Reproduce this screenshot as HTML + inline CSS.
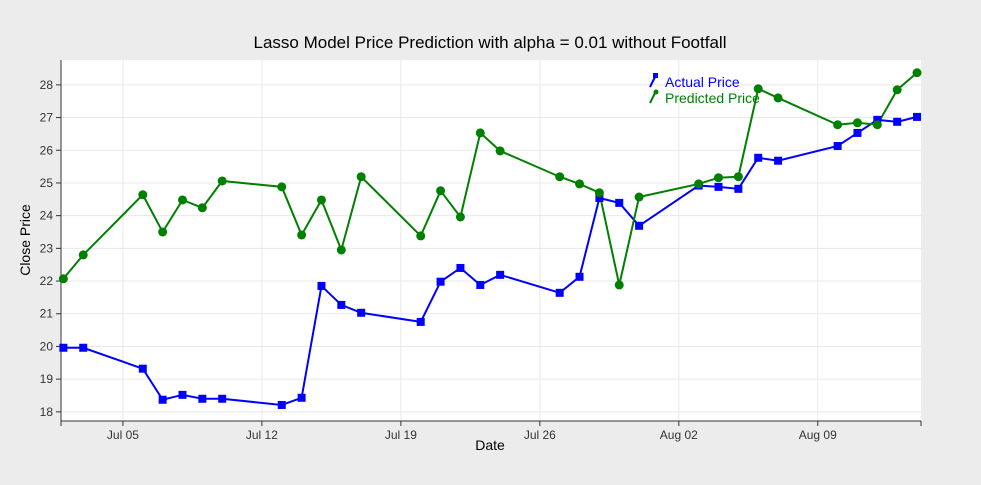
<!DOCTYPE html>
<html><head><meta charset="utf-8"><style>
body{margin:0;background:#ececec;font-family:"Liberation Sans",sans-serif}
svg text{font-family:"Liberation Sans",sans-serif}
</style></head><body>
<svg id="chart" width="981" height="480">
<rect x="0" y="0" width="981" height="480" fill="#ececec"/>
<rect x="61" y="60" width="860" height="361" fill="#fff"/>
<g id="grid"></g><g id="axes"></g><g id="series"></g>
<text x="490" y="48" font-size="17" text-anchor="middle">Lasso Model Price Prediction with alpha = 0.01 without Footfall</text>
<text x="490" y="450" font-size="14" text-anchor="middle">Date</text>
<text x="30" y="240" font-size="14" text-anchor="middle" transform="rotate(-90 30 240)">Close Price</text>
<g>
<g><path d="M650 87 L655 77" stroke="blue" stroke-width="2"/><rect x="653" y="73" width="5" height="5" fill="blue"/><text x="665" y="87" font-size="14" fill="blue">Actual Price</text></g>
<g><path d="M650 103 L655 93" stroke="green" stroke-width="2"/><circle cx="656" cy="92" r="2.5" fill="green"/><text x="665" y="103" font-size="14" fill="green">Predicted Price</text></g>
</g>
</svg>
<script>
const dates=["2020-07-02","2020-07-03","2020-07-06","2020-07-07","2020-07-08","2020-07-09","2020-07-10","2020-07-13","2020-07-14","2020-07-15","2020-07-16","2020-07-17","2020-07-20","2020-07-21","2020-07-22","2020-07-23","2020-07-24","2020-07-27","2020-07-28","2020-07-29","2020-07-30","2020-07-31","2020-08-03","2020-08-04","2020-08-05","2020-08-06","2020-08-07","2020-08-10","2020-08-11","2020-08-12","2020-08-13","2020-08-14"];
const actual=[19.96,19.96,19.32,18.37,18.52,18.4,18.4,18.21,18.43,21.85,21.27,21.03,20.75,21.98,22.4,21.88,22.19,21.64,22.13,24.54,24.39,23.69,24.92,24.88,24.82,25.77,25.68,26.13,26.53,26.93,26.87,27.02];
const predicted=[22.07,22.8,24.64,23.5,24.48,24.24,25.06,24.88,23.41,24.48,22.95,25.19,23.38,24.76,23.96,26.53,25.98,25.19,24.97,24.7,21.88,24.57,24.97,25.16,25.19,27.88,27.6,26.78,26.84,26.78,27.85,28.37];
const yTicks=[18,19,20,21,22,23,24,25,26,27,28];
const xTickDates=["2020-07-05","2020-07-12","2020-07-19","2020-07-26","2020-08-02","2020-08-09"];
const xTickLabels=["Jul 05","Jul 12","Jul 19","Jul 26","Aug 02","Aug 09"];
const NS="http://www.w3.org/2000/svg";
const t=d=>new Date(d+"T00:00:00Z").getTime()/86400000;
const x0=t("2020-07-01")+0.88, x1=t("2020-08-14")+0.2;
const X=d=>61+(t(d)-x0)/(x1-x0)*860;
const Y=v=>421-(v-17.72)/(28.76-17.72)*361;
function mk(tag,a,p){const e=document.createElementNS(NS,tag);for(const k in a)e.setAttribute(k,a[k]);p.appendChild(e);return e;}
const grid=document.getElementById('grid'),axes=document.getElementById('axes'),ser=document.getElementById('series');
yTicks.forEach(v=>{
 const l=mk('line',{x1:61,x2:921,y1:Y(v),y2:Y(v),stroke:'#e8e8e8'},grid);
 
 
 mk('line',{x1:56,x2:61,y1:Y(v),y2:Y(v),stroke:'#333'},axes);
 const tx=mk('text',{x:53,y:Y(v)+4,'font-size':12,'text-anchor':'end',fill:'#333'},axes);tx.textContent=v;
 
 
});
xTickDates.forEach((d,i)=>{
 const l=mk('line',{x1:X(d),x2:X(d),y1:60,y2:421,stroke:'#e8e8e8'},grid);
 
 
 mk('line',{x1:X(d),x2:X(d),y1:421,y2:426,stroke:'#333'},axes);
 const tx=mk('text',{x:X(d),y:439,'font-size':12,'text-anchor':'middle',fill:'#333'},axes);tx.textContent=xTickLabels[i];
 
 
});
mk('line',{x1:61,x2:61,y1:60,y2:421,stroke:'#333'},axes);
mk('line',{x1:61,x2:921,y1:421,y2:421,stroke:'#333'},axes);
mk('line',{x1:921,x2:921,y1:421,y2:426,stroke:'#333'},axes);
mk('line',{x1:61,x2:61,y1:421,y2:426,stroke:'#333'},axes);
function line(vals,col,name){
 const p=mk('polyline',{points:vals.map((v,i)=>X(dates[i])+','+Y(v)).join(' '),fill:'none',stroke:col,'stroke-width':2},ser);
 
 
}
line(actual,'blue','actual-price');
line(predicted,'green','predicted-price');
actual.forEach((v,i)=>{const r=mk('rect',{x:X(dates[i])-4,y:Y(v)-4,width:8,height:8,fill:'blue'},ser);
 
 });
predicted.forEach((v,i)=>{const c=mk('circle',{cx:X(dates[i]),cy:Y(v),r:4.5,fill:'green'},ser);
 
 });
</script>
</body></html>
